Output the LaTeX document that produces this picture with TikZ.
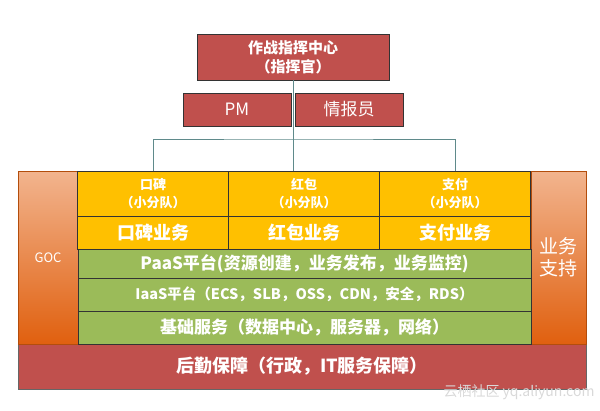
\documentclass[tikz,border=0pt]{standalone}
\usepackage{fontspec}
\setmainfont{Noto Sans CJK SC}
\definecolor{bred}{HTML}{C0504D}
\definecolor{bor}{HTML}{FFC000}
\definecolor{bgr}{HTML}{9BBB59}
\definecolor{sidetop}{HTML}{F2B48E}
\definecolor{sidebot}{HTML}{E0600F}
\definecolor{lnk}{HTML}{5F8A8B}
\begin{document}
\begin{tikzpicture}[x=1pt,y=-1pt,
  cell/.style={draw=black!80,line width=0.8pt,text=white,align=center,inner sep=0pt},
  side/.style={draw=sidebot!80!black,top color=sidetop,bottom color=sidebot,text=white,align=center,inner sep=0pt},
  link/.style={draw=lnk,line width=1pt}]
\useasboundingbox (0,0) rectangle (600,410);
% bottom red
\node[cell,fill=bred,draw=black!60,minimum width=568pt,minimum height=45pt,font=\fontsize{18}{20}\selectfont\bfseries] (hq) at (302,366.5) {后勤保障（行政，IT服务保障）};
% sides
\node[side,minimum width=60pt,minimum height=173pt,font=\fontsize{13}{15}\selectfont] (goc) at (48,257.5) {GOC};
\node[side,minimum width=55pt,minimum height=173pt,font=\fontsize{19}{22}\selectfont] (sup) at (558.5,257.5) {业务\\支持};
% top
\node[cell,fill=bred,minimum width=192pt,minimum height=46pt,font=\fontsize{15}{19}\selectfont\bfseries] (cmd) at (293,57) {作战指挥中心\\（指挥官）};
\node[cell,fill=bred,minimum width=108pt,minimum height=33pt,font=\fontsize{17}{19}\selectfont] (pm) at (237,109.5) {PM};
\node[cell,fill=bred,minimum width=108pt,minimum height=33pt,font=\fontsize{17}{19}\selectfont] (info) at (349,109.5) {情报员};
% teams
\foreach \n/\x/\t/\b in {a/153/口碑/口碑业务, b/304/红包/红包业务, c/455/支付/支付业务}{
  \node[cell,fill=bor,minimum width=151pt,minimum height=45pt,font=\fontsize{13}{18}\selectfont\bfseries] (\n1) at (\x,193.5) {\t\\（小分队）};
  \node[cell,fill=bor,minimum width=151pt,minimum height=33pt,font=\fontsize{18}{20}\selectfont\bfseries] (\n2) at (\x,232.5) {\b};
}
\node[cell,fill=bgr,minimum width=453pt,minimum height=29pt,font=\fontsize{17}{19}\selectfont\bfseries] (paas) at (304.5,263.5) {PaaS平台(资源创建，业务发布，业务监控)};
\node[cell,fill=bgr,minimum width=453pt,minimum height=33pt,font=\fontsize{14.5}{16}\selectfont\bfseries] (iaas) at (304.5,294.5) {IaaS平台（ECS，SLB，OSS，CDN，安全，RDS）};
\node[cell,fill=bgr,minimum width=453pt,minimum height=33pt,font=\fontsize{17}{19}\selectfont\bfseries] (base) at (304.5,327.5) {基础服务（数据中心，服务器，网络）};
% links
\coordinate (j) at (cmd.south |- 0,139);
\coordinate (k) at (cmd.south |- b1.north);
\draw[link] (cmd.south) -- (k);
\draw[link] (a1.north) |- (j) -| (c1.north);
\node[text=black!15,font=\fontsize{14}{16}\selectfont,anchor=east] (wm) at (598,392) {云栖社区 yq.aliyun.com};
\end{tikzpicture}
\end{document}
